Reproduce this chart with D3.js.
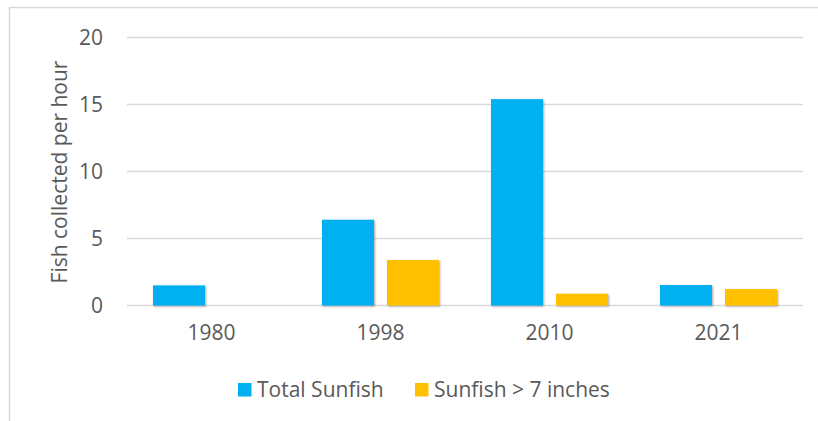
<!DOCTYPE html>
<html lang="en">
<head>
    <meta charset="UTF-8">
    <title>Sunfish collected per hour</title>
    <script src="https://d3js.org/d3.v7.min.js"></script>
    <style>
        body {
            margin: 0;
            padding: 0;
            background: #fff;
            font-family: "Open Sans", sans-serif;
        }
        .grid line {
            stroke: #d9d9d9;
            stroke-width: 1.3px;
        }
        .axis text {
            fill: #595959;
            font-size: 21px;
            font-family: "Open Sans", sans-serif;
        }
    </style>
</head>
<body>
    <svg width="818" height="421"></svg>

    <script>
        // chart data
        const years = ["1980", "1998", "2010", "2021"];
        const seriesNames = ["Total Sunfish", "Sunfish > 7 inches"];
        const totalSunfish = [1.5, 6.4, 15.4, 1.53];
        const bigSunfish = [0, 3.4, 0.88, 1.23];
        const yTicks = [0, 5, 10, 15, 20];
        const colors = ["#00b0f0", "#ffc000"];

        const svg = d3.select("svg");

        // outer chart border (left and top edges are visible)
        svg.append("path")
            .attr("d", "M9.5,421 L9.5,7.5 L818,7.5")
            .attr("fill", "none")
            .attr("stroke", "#d9d9d9")
            .attr("stroke-width", 1.5);

        const margin = {left: 127, right: 15, top: 37.5, bottom: 115.5};
        const plotW = 803 - margin.left;
        const plotH = 305.5 - margin.top;

        const g = svg.append("g").attr("transform", `translate(${margin.left},${margin.top})`);

        const x = d3.scaleBand().domain(years).range([0, plotW]).paddingInner(0).paddingOuter(0);
        const xInner = d3.scaleBand().domain(seriesNames)
            .range([26, x.bandwidth() - 26]).paddingInner(0.2);
        const y = d3.scaleLinear().domain([0, 20]).range([plotH, 0]);

        // drop shadow like the office chart
        const defs = svg.append("defs");
        const shadow = defs.append("filter").attr("id", "shadow")
            .attr("x", "-20%").attr("y", "-20%").attr("width", "140%").attr("height", "140%");
        shadow.append("feDropShadow")
            .attr("dx", 1).attr("dy", 1).attr("stdDeviation", 1.2)
            .attr("flood-color", "#000").attr("flood-opacity", 0.35);

        // gridlines
        g.append("g").attr("class", "grid")
            .selectAll("line")
            .data(yTicks)
            .enter().append("line")
            .attr("x1", 0).attr("x2", plotW)
            .attr("y1", d => y(d)).attr("y2", d => y(d));

        // y axis labels
        const yAxis = g.append("g").attr("class", "axis")
            .call(d3.axisLeft(y).tickValues(yTicks).tickSize(0).tickPadding(24));
        yAxis.select(".domain").remove();
        yAxis.selectAll("text").attr("dy", "0.35em");

        // x axis labels
        const xAxis = g.append("g").attr("class", "axis")
            .attr("transform", `translate(0,${plotH})`)
            .call(d3.axisBottom(x).tickSize(0).tickPadding(20));
        xAxis.select(".domain").remove();

        // bars
        const rows = years.map((yr, i) => ({year: yr, values: [totalSunfish[i], bigSunfish[i]]}));
        const groups = g.append("g").selectAll("g")
            .data(rows)
            .enter().append("g")
            .attr("transform", d => `translate(${x(d.year)},0)`);

        groups.selectAll("rect")
            .data(d => d.values.map((v, j) => ({name: seriesNames[j], value: v, idx: j})))
            .enter().append("rect")
            .filter(d => d.value > 0)
            .attr("x", d => xInner(d.name))
            .attr("width", xInner.bandwidth())
            .attr("y", d => y(d.value))
            .attr("height", d => y(0) - y(d.value))
            .attr("fill", d => colors[d.idx])
            .attr("filter", "url(#shadow)");

        // y axis title
        svg.append("text")
            .attr("transform", "translate(67,172) rotate(-90)")
            .attr("text-anchor", "middle")
            .attr("fill", "#595959")
            .attr("font-size", "21px")
            .text("Fish collected per hour");

        // legend
        const legendX = [238, 415];
        const legend = svg.append("g").selectAll("g")
            .data(seriesNames)
            .enter().append("g")
            .attr("transform", (d, i) => `translate(${legendX[i]},383)`);
        legend.append("rect")
            .attr("width", 13.5).attr("height", 13.5)
            .attr("fill", (d, i) => colors[i]);
        legend.append("text")
            .attr("x", 19).attr("y", 14)
            .attr("fill", "#595959")
            .attr("font-size", "21px")
            .text(d => d);
    </script>
</body>
</html>
